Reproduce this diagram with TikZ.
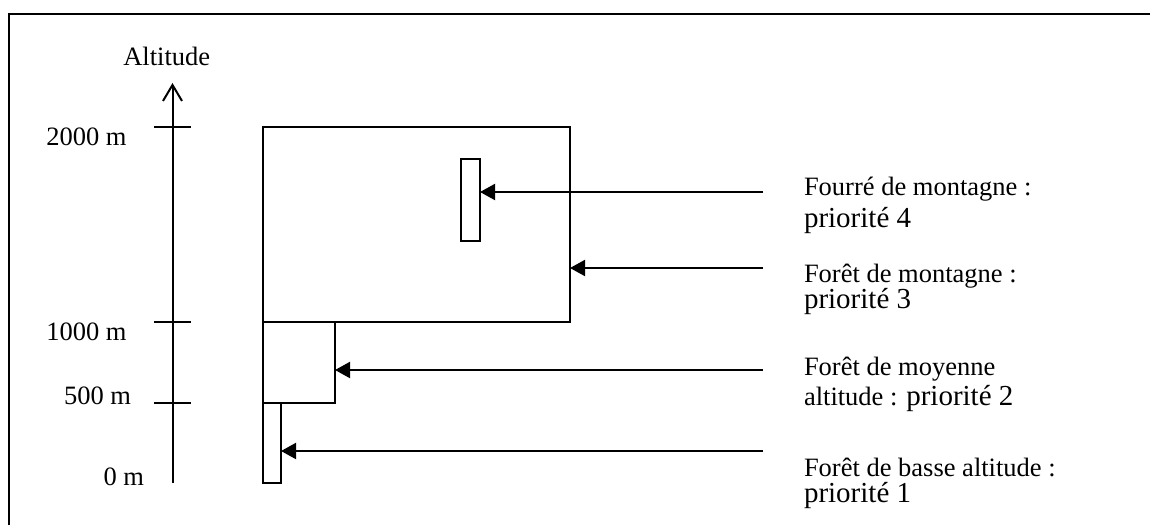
\documentclass[tikz,border=0pt]{standalone}
\usepackage{fontspec}
\setmainfont{Liberation Serif}
\usetikzlibrary{arrows.meta}
\newcommand{\szA}{\fontsize{13.25pt}{16pt}\selectfont}
\newcommand{\szB}{\fontsize{14.5pt}{16pt}\selectfont}
\newcommand{\lblpair}[3]{\vbox{\baselineskip=#1\lineskiplimit=-\maxdimen\hbox{#2}\hbox{#3}}}
\begin{document}
\begin{tikzpicture}[x=0.5pt,y=-0.5pt, line width=1pt,
  box/.style={draw, inner sep=0pt, outer sep=0pt, anchor=north west},
  ptr/.style={-{Triangle[length=7.5pt,width=8pt]}},
  lbl/.style={inner sep=0pt, anchor=base west, font=\szA},
  alt/.style={inner sep=0pt, anchor=base east, font=\szA}]
\useasboundingbox (0,0) rectangle (1150,525);
\draw[line width=1.1pt] (9,525) -- (9,14) -- (1150,14);

% axis
\coordinate (axbot) at (172.5,483);
\coordinate (axtop) at (172.5,83);
\draw[-{Straight Barb[length=8pt,width=9.5pt]}] (axbot) -- (axtop);
\draw (154,127) -- (191,127);
\draw (154,322) -- (191,322);
\draw (154,403) -- (191,403);
\node[inner sep=0pt, anchor=base, font=\szA] (altl) at (166.7,65) {Altitude};
\node[alt] (t2000) at (127.5,145) {2000 m};
\node[alt] (t1000) at (127.5,340) {1000 m};
\node[alt] (t500) at (132,404) {500 m};
\node[alt] (t0) at (145,485) {0 m};

% zones
\node[box, minimum width=153.5pt, minimum height=97.5pt] (mont) at (263,127) {};
\node[box, minimum width=36pt, minimum height=40.5pt] (med) at (263,322) {};
\node[box, minimum width=9pt, minimum height=40pt] (low) at (263,403) {};
\node[box, minimum width=9.5pt, minimum height=41pt] (four) at (461,159) {};

% arrows
\coordinate (s1) at (763,192);
\coordinate (s2) at (763,268);
\coordinate (s3) at (763,370);
\coordinate (s4) at (763,451);
\draw[ptr] (s1) -- (s1 -| four.east);
\draw[ptr] (s2) -- (s2 -| mont.east);
\draw[ptr] (s3) -- (s3 -| med.east);
\draw[ptr] (s4) -- (s4 -| low.east);

% labels (anchored at the baseline of the last line)
\node[lbl] (l1) at (803,227) {\lblpair{16pt}{Fourré de montagne :}{\szB priorité 4}};
\node[lbl] (l2) at (803,308) {\lblpair{13pt}{Forêt de montagne :}{\szB priorité 3}};
\node[lbl] (l3) at (803,405) {\lblpair{15pt}{Forêt de moyenne}{altitude : {\szB priorité 2}}};
\node[lbl] (l4) at (803,502) {\lblpair{13pt}{Forêt de basse altitude :}{\szB priorité 1}};
\end{tikzpicture}
\end{document}
